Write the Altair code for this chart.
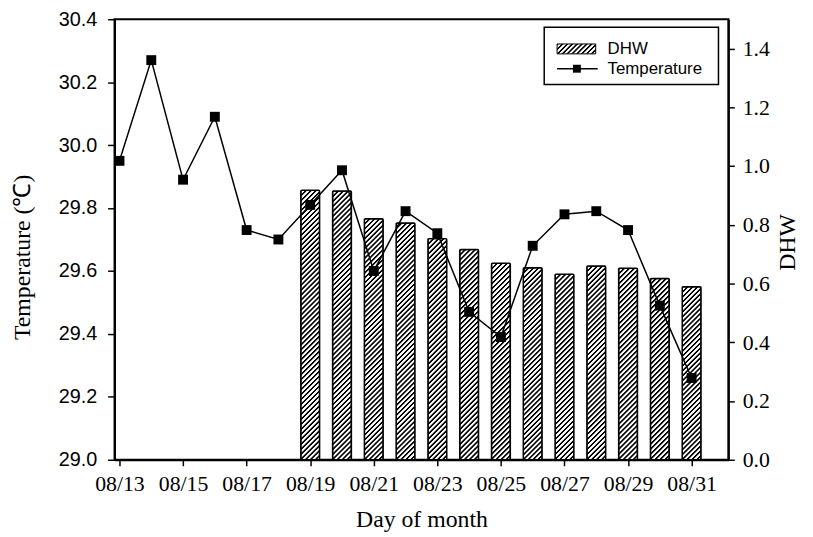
import altair as alt
import pandas as pd

# ---------------- data ----------------
days = list(range(13, 32))
temperature = [29.95, 30.27, 29.89, 30.09, 29.73, 29.70, 29.81, 29.92, 29.60,
               29.79, 29.72, 29.47, 29.39, 29.68, 29.78, 29.79, 29.73, 29.49, 29.26]
dhw_days = list(range(19, 32))
dhw = [0.918, 0.915, 0.821, 0.806, 0.753, 0.716, 0.669, 0.654, 0.632,
       0.660, 0.652, 0.617, 0.589]
x_ticks = list(range(13, 33))
temp_ticks = [29.0, 29.2, 29.4, 29.6, 29.8, 30.0, 30.2, 30.4]
dhw_ticks = [0.0, 0.2, 0.4, 0.6, 0.8, 1.0, 1.2, 1.4]
legend_labels = ["DHW", "Temperature"]

temp_df = pd.DataFrame({"day": days, "temperature": temperature})
dhw_df = pd.DataFrame({"day": dhw_days, "dhw": dhw})
legend_df = pd.DataFrame({"label": legend_labels})

# ---------------- layout / style ----------------
W, H = 620, 445
DHW_MAX = 1.5
BAR_W = 19
SERIF = "Liberation Serif"
SANS = "Liberation Sans"


def hatch(w, h, period=5.0, ink=0.45, soft_px=0.6):
    """Diagonal '////' hatch as a linear gradient for a w x h box."""
    k = (w + h) / (w * w + h * h)
    n = max(1, int(round((w + h) / period)))
    span_px = (w + h) / 2 ** 0.5          # perpendicular extent in pixels
    e = soft_px / span_px                 # soft edge width in offset units
    stops = []
    for i in range(n):
        a, b, c = i / n, (i + ink) / n, (i + 1) / n
        stops += [
            {"offset": a, "color": "black"},
            {"offset": b - e, "color": "black"},
            {"offset": b, "color": "white"},
            {"offset": c - e, "color": "white"},
        ]
    stops.append({"offset": 1, "color": "black"})
    return {"gradient": "linear", "x1": 0, "y1": 0, "x2": k * w, "y2": k * h,
            "stops": stops}


fill_cond = [
    {"test": f"datum.day == {d}", "value": hatch(BAR_W, v / DHW_MAX * H)}
    for d, v in zip(dhw_days, dhw)
]

x_scale = alt.Scale(domain=[13, 32], nice=False, zero=False)
x_axis = alt.Axis(
    values=x_ticks,
    labelExpr="datum.value % 2 == 1 && datum.value <= 31 ? '08/' + datum.value : ''",
    labelFont=SERIF, labelFontSize=22, labelPadding=8, tickSize=6,
    tickWidth=1.5, domainWidth=2, labelOverlap=False, labelFlush=False,
    title="Day of month", titleFont=SERIF, titleFontSize=24,
    titleBaseline="alphabetic", titleY=67,
)

bars = alt.Chart(dhw_df).mark_bar(
    size=BAR_W, stroke="black", strokeWidth=1.5, cornerRadius=1
).encode(
    x=alt.X("day:Q", scale=x_scale, axis=x_axis),
    y=alt.Y("dhw:Q", scale=alt.Scale(domain=[0, DHW_MAX], nice=False),
            axis=alt.Axis(orient="right", values=dhw_ticks, format=".1f",
                          labelFont=SERIF, labelFontSize=22, labelPadding=8,
                          tickSize=6, tickWidth=1.5, domainWidth=2,
                          title="DHW", titleFont=SERIF, titleFontSize=24,
                          titleAngle=270, titleBaseline="alphabetic",
                          titleAlign="center", titleX=67, titleY=225)),
    fill=alt.value("white", condition=fill_cond),
)

line = alt.Chart(temp_df).mark_line(
    color="black", strokeWidth=1.5,
    point=alt.OverlayMarkDef(shape="square", size=100, filled=True,
                             color="black", opacity=1),
).encode(
    x=alt.X("day:Q", scale=x_scale),
    y=alt.Y("temperature:Q", scale=alt.Scale(domain=[29.0, 30.4], nice=False, zero=False),
            axis=alt.Axis(orient="left", values=temp_ticks, format=".1f",
                          labelFont=SANS, labelFontSize=20, labelPadding=11,
                          tickSize=7, tickWidth=1.5, domainWidth=2,
                          title="Temperature (\u2103)", titleFont=SERIF,
                          titleFontSize=24, titleAngle=270,
                          titleBaseline="alphabetic", titleAlign="center",
                          titleX=-85.6, titleY=240)),
)

# ---------------- legend ----------------
leg_box = alt.Chart(legend_df).transform_filter(
    alt.datum.label == "DHW"
).mark_rect(fill="white", stroke="black", strokeWidth=1.5).encode(
    x=alt.value(434), x2=alt.value(610), y=alt.value(8), y2=alt.value(66)
)
leg_swatch = alt.Chart(legend_df).transform_filter(
    alt.datum.label == "DHW"
).mark_rect(fill=hatch(39, 10), stroke="black", strokeWidth=1).encode(
    x=alt.value(447), x2=alt.value(486), y=alt.value(25), y2=alt.value(35)
)
leg_line = alt.Chart(legend_df).transform_filter(
    alt.datum.label == "Temperature"
).mark_rule(color="black", strokeWidth=1.5).encode(
    x=alt.value(447), x2=alt.value(488), y=alt.value(50)
)
leg_marker = alt.Chart(legend_df).transform_filter(
    alt.datum.label == "Temperature"
).mark_point(shape="square", size=64, filled=True, color="black", opacity=1).encode(
    x=alt.value(467), y=alt.value(50)
)
leg_text_dhw = alt.Chart(legend_df).transform_filter(
    alt.datum.label == "DHW"
).mark_text(align="left", baseline="middle", font=SANS, fontSize=17,
            color="black").encode(
    x=alt.value(498), y=alt.value(30), text="label:N"
)
leg_text_temp = alt.Chart(legend_df).transform_filter(
    alt.datum.label == "Temperature"
).mark_text(align="left", baseline="middle", font=SANS, fontSize=17,
            color="black").encode(
    x=alt.value(498), y=alt.value(50), text="label:N"
)

chart = alt.layer(
    bars, line, leg_box, leg_swatch, leg_line, leg_marker, leg_text_dhw, leg_text_temp
).resolve_scale(
    y="independent"
).properties(
    width=W, height=H,
    autosize=alt.AutoSizeParams(type="none"),
    padding={"left": 107.6, "top": 8.7, "right": 77.4, "bottom": 71},
    background="white",
).configure_axis(
    grid=False, labelColor="black", tickColor="black", domainColor="black",
    titleColor="black", titleFontWeight="normal",
).configure_view(
    stroke="black", strokeWidth=2,
)

chart.save("out.html", embed_options={"renderer": "svg", "actions": False})
